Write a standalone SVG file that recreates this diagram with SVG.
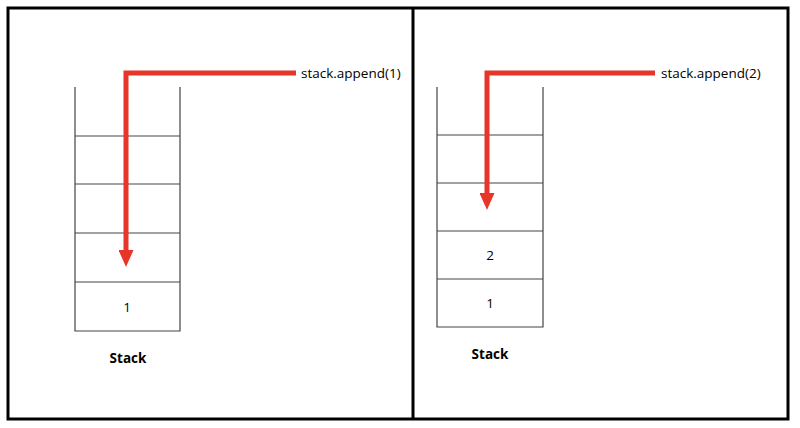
<svg xmlns="http://www.w3.org/2000/svg" width="800" height="428" viewBox="0 0 800 428">
<style>
.frame{fill:none;stroke:#000;stroke-width:3}
.cell{fill:none;stroke:#444;stroke-width:1.2}
.arr{fill:none;stroke:#e8352a;stroke-width:5}
.t{font-family:"Open Sans","Liberation Sans",sans-serif;font-size:13.5px;fill:#000}
.b{font-weight:bold;text-anchor:middle}
.c{text-anchor:middle}
</style>
<defs><marker id="ah" markerWidth="3.4" markerHeight="3" refX="1.4" refY="1.5" orient="auto" markerUnits="strokeWidth"><path d="M0,0 L3.4,1.5 L0,3 Z" fill="#e8352a"/></marker></defs>
<rect class="frame" x="8" y="8" width="780" height="411"/>
<line class="frame" x1="413" y1="8" x2="413" y2="419"/>
<g id="stack1">
<path class="cell" d="M75,87 V331 H180 V87 M75,136 H180 M75,184 H180 M75,233 H180 M75,282 H180"/>
<text class="t c" x="127" y="312">1</text>
<text class="t b" x="128" y="363">Stack</text>
</g>
<g id="stack2">
<path class="cell" d="M437,87 V327 H543 V87 M437,135 H543 M437,183 H543 M437,231 H543 M437,279 H543"/>
<text class="t c" x="490" y="260">2</text>
<text class="t c" x="490" y="308">1</text>
<text class="t b" x="490" y="359">Stack</text>
</g>
<g id="label1"><text class="t" x="301" y="78">stack.append(1)</text></g>
<g id="label2"><text class="t" x="661" y="78">stack.append(2)</text></g>
<g id="connectors">
<path class="arr" d="M296,73 H126 V257" marker-end="url(#ah)"/>
<path class="arr" d="M655,73 H487 V200" marker-end="url(#ah)"/>
</g>
</svg>
